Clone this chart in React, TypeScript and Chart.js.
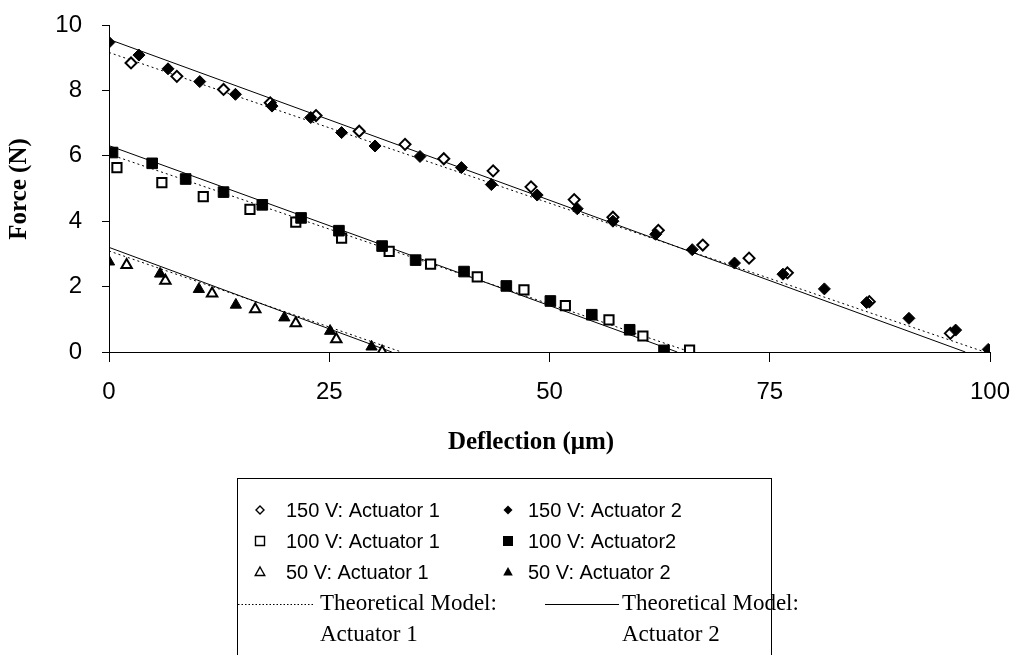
import React, { useEffect, useRef } from "react";
import { Chart, registerables } from "chart.js";

Chart.register(...registerables);

// Measured force vs. deflection, actuator 1 (open markers)
const act1V150X = [2.5, 7.7, 13.0, 18.3, 23.5, 28.4, 33.6, 38.0, 43.6, 47.9, 52.8, 57.2, 62.35, 67.4, 72.65, 77.0, 86.3, 95.5];
const act1V150Y = [8.84, 8.43, 8.03, 7.62, 7.23, 6.75, 6.35, 5.91, 5.54, 5.05, 4.66, 4.12, 3.72, 3.27, 2.87, 2.42, 1.54, 0.57];
const act1V100X = [0.9, 6.0, 10.7, 16.0, 21.2, 26.4, 31.8, 36.5, 41.8, 47.1, 51.8, 56.75, 60.6, 65.9];
const act1V100Y = [5.64, 5.18, 4.75, 4.36, 3.97, 3.48, 3.08, 2.69, 2.3, 1.9, 1.42, 0.98, 0.49, 0.06];
const act1V50X = [2.0, 6.4, 11.7, 16.6, 21.2, 25.8, 31.0];
const act1V50Y = [2.66, 2.18, 1.79, 1.31, 0.88, 0.39, 0.01];

// Measured force vs. deflection, actuator 2 (filled markers)
const act2V150X = [0, 3.4, 6.7, 10.3, 14.35, 18.5, 22.9, 26.4, 30.2, 35.3, 40.0, 43.4, 48.6, 53.15, 57.2, 62.05, 66.2, 71.0, 76.5, 81.2, 86.0, 90.8, 96.1, 99.8];
const act2V150Y = [9.47, 9.08, 8.66, 8.27, 7.88, 7.52, 7.17, 6.71, 6.3, 5.98, 5.64, 5.12, 4.8, 4.38, 4.0, 3.6, 3.13, 2.72, 2.38, 1.93, 1.51, 1.03, 0.67, 0.08];
const act2V100X = [0.4, 4.9, 8.7, 13.0, 17.4, 21.8, 26.1, 31.0, 34.8, 40.3, 45.1, 50.1, 54.8, 59.1, 63.0];
const act2V100Y = [6.1, 5.77, 5.29, 4.89, 4.5, 4.1, 3.71, 3.24, 2.81, 2.46, 2.02, 1.56, 1.14, 0.68, 0.05];
const act2V50X = [0, 5.8, 10.2, 14.4, 19.9, 25.1, 29.8];
const act2V50Y = [2.76, 2.39, 1.92, 1.44, 1.05, 0.64, 0.16];

// Theoretical model: blocked force (N) and free deflection (µm) for 150 V, 100 V, 50 V
const model1BlockedForce = [9.16, 6.05, 3.09];
const model1FreeDeflection = [99.4, 66.0, 33.2];
const model2BlockedForce = [9.56, 6.31, 3.2];
const model2FreeDeflection = [97.2, 64.5, 32.1];

// Axis ticks
const xTickStep = 25;
const yTickStep = 2;

const legendMarkerRows = [
  { left: "150 V: Actuator 1", right: "150 V: Actuator 2", shape: "diamond" },
  { left: "100 V: Actuator 1", right: "100 V: Actuator2", shape: "square" },
  { left: "50 V: Actuator 1", right: "50 V: Actuator 2", shape: "triangle" },
];
const legendModelLines = [
  ["Theoretical Model:", "Actuator 1"],
  ["Theoretical Model:", "Actuator 2"],
];

const toPoints = (xs: number[], ys: number[]) => xs.map((x, i) => ({ x, y: ys[i] }));

const SANS = '"Liberation Sans", Arial, sans-serif';
const SERIF = '"Liberation Serif", "Times New Roman", serif';
const INK = "#000";

function drawMarker(ctx: CanvasRenderingContext2D, shape: string, x: number, y: number, filled: boolean) {
  ctx.beginPath();
  if (shape === "diamond") {
    const r = filled ? 4.5 : 4;
    ctx.moveTo(x, y - r);
    ctx.lineTo(x + r, y);
    ctx.lineTo(x, y + r);
    ctx.lineTo(x - r, y);
    ctx.closePath();
  } else if (shape === "square") {
    const s = filled ? 5 : 4.5;
    ctx.rect(x - s, y - s, 2 * s, 2 * s);
  } else {
    const r = 5;
    ctx.moveTo(x, y - r);
    ctx.lineTo(x + r * 0.95, y + r * 0.7);
    ctx.lineTo(x - r * 0.95, y + r * 0.7);
    ctx.closePath();
  }
  if (filled) {
    ctx.fillStyle = INK;
    ctx.fill();
  } else {
    ctx.fillStyle = "#fff";
    ctx.fill();
    ctx.lineWidth = 1.4;
    ctx.strokeStyle = INK;
    ctx.stroke();
  }
}

// Axis titles and the boxed two-column key
const decorations = {
  id: "decorations",
  afterDraw(chart: Chart) {
    const ctx = chart.ctx;
    ctx.save();
    ctx.fillStyle = INK;

    ctx.font = `bold 25px ${SERIF}`;
    ctx.textAlign = "center";
    ctx.textBaseline = "middle";
    ctx.fillText("Deflection (\u03bcm)", 531, 443);
    ctx.save();
    ctx.translate(20, 189);
    ctx.rotate(-Math.PI / 2);
    ctx.fillText("Force (N)", 0, 0);
    ctx.restore();

    // key frame (runs past the bottom edge)
    ctx.strokeStyle = INK;
    ctx.lineWidth = 1;
    ctx.strokeRect(237.5, 478.5, 534, 200);

    const rowY = [510, 541, 572];
    ctx.textAlign = "left";
    ctx.font = `20px ${SANS}`;
    legendMarkerRows.forEach((row, i) => {
      drawMarker(ctx, row.shape, 260, rowY[i], false);
      drawMarker(ctx, row.shape, 508, rowY[i], true);
      ctx.fillStyle = INK;
      ctx.fillText(row.left, 286, rowY[i] + 1);
      ctx.fillText(row.right, 528, rowY[i] + 1);
    });

    // model line samples
    ctx.strokeStyle = INK;
    ctx.lineWidth = 1;
    ctx.setLineDash([1.5, 2]);
    ctx.beginPath();
    ctx.moveTo(238, 604.5);
    ctx.lineTo(313, 604.5);
    ctx.stroke();
    ctx.setLineDash([]);
    ctx.beginPath();
    ctx.moveTo(545, 604.5);
    ctx.lineTo(619, 604.5);
    ctx.stroke();

    ctx.font = `23px ${SERIF}`;
    ctx.fillStyle = INK;
    const textX = [320, 622];
    legendModelLines.forEach((lines, c) => {
      lines.forEach((t, j) => ctx.fillText(t, textX[c], 604 + j * 31));
    });
    ctx.restore();
  },
};

export default function App() {
  const canvasRef = useRef<HTMLCanvasElement>(null);

  useEffect(() => {
    if (!canvasRef.current) return;

    const modelLine = (force: number, defl: number, dashed: boolean) => ({
      type: "scatter" as const,
      data: [
        { x: 0, y: force },
        { x: defl, y: 0 },
      ],
      showLine: true,
      borderColor: INK,
      borderWidth: 1,
      borderDash: dashed ? [2, 3] : [],
      pointRadius: 0,
      fill: false,
    });

    const marks = (
      xs: number[],
      ys: number[],
      style: "rectRot" | "rect" | "triangle",
      filled: boolean,
      radius: number
    ) => ({
      type: "scatter" as const,
      data: toPoints(xs, ys),
      pointStyle: style,
      pointRadius: radius,
      pointBackgroundColor: filled ? INK : "#fff",
      pointBorderColor: INK,
      pointBorderWidth: filled ? 1 : 2,
      showLine: false,
    });

    const chart = new Chart(canvasRef.current, {
      type: "scatter",
      data: {
        datasets: [
          marks(act2V150X, act2V150Y, "rectRot", true, 6),
          marks(act2V100X, act2V100Y, "rect", true, 7.5),
          marks(act2V50X, act2V50Y, "triangle", true, 6.5),
          marks(act1V150X, act1V150Y, "rectRot", false, 5.5),
          marks(act1V100X, act1V100Y, "rect", false, 6.5),
          marks(act1V50X, act1V50Y, "triangle", false, 6),
          ...model2BlockedForce.map((f, i) => modelLine(f, model2FreeDeflection[i], false)),
          ...model1BlockedForce.map((f, i) => modelLine(f, model1FreeDeflection[i], true)),
        ] as any,
      },
      options: {
        animation: false,
        responsive: false,
        devicePixelRatio: 1,
        layout: { padding: { left: 0, top: 25, right: 26, bottom: 193 } },
        plugins: {
          legend: { display: false },
          tooltip: { enabled: false },
        },
        scales: {
          x: {
            type: "linear",
            min: 0,
            max: 100,
            ticks: {
              stepSize: xTickStep,
              color: INK,
              padding: 16,
              font: { family: SANS, size: 24 },
            },
            grid: { drawOnChartArea: false, drawTicks: true, tickLength: 10, color: INK },
            border: { display: true, color: INK, width: 1 },
            afterFit: (scale: any) => {
              scale.height = 110;
              scale.paddingLeft = 0;
              scale.paddingRight = 0;
            },
          },
          y: {
            type: "linear",
            min: 0,
            max: 10,
            ticks: {
              stepSize: yTickStep,
              color: INK,
              padding: 20,
              font: { family: SANS, size: 24 },
            },
            grid: { drawOnChartArea: false, drawTicks: true, tickLength: 7, color: INK },
            border: { display: true, color: INK, width: 1 },
            afterFit: (scale: any) => {
              scale.width = 109;
              scale.paddingTop = 0;
              scale.paddingBottom = 0;
            },
          },
        },
      },
      plugins: [decorations],
    });

    return () => chart.destroy();
  }, []);

  return (
    <div style={{ position: "absolute", left: 0, top: 0, width: 1016, height: 655, background: "#fff" }}>
      <canvas ref={canvasRef} width={1016} height={655} style={{ display: "block", width: 1016, height: 655 }} />
    </div>
  );
}
